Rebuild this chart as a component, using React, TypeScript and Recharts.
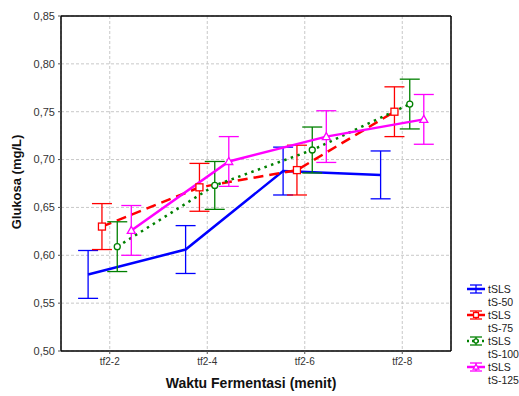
import { ComposedChart, Line, XAxis, YAxis, CartesianGrid, ErrorBar, ReferenceLine } from "recharts";

// data
const categories = ["tf2-2", "tf2-4", "tf2-6", "tf2-8"];
const yTicks = [0.5, 0.55, 0.6, 0.65, 0.7, 0.75, 0.8, 0.85];

const ts50 = [0.580, 0.606, 0.688, 0.684];
const ts50Err = [0.025, 0.025, 0.025, 0.025];
const ts75 = [0.630, 0.671, 0.689, 0.750];
const ts75Err = [0.024, 0.025, 0.026, 0.026];
const ts100 = [0.609, 0.673, 0.710, 0.758];
const ts100Err = [0.026, 0.025, 0.024, 0.026];
const ts125 = [0.626, 0.698, 0.724, 0.742];
const ts125Err = [0.026, 0.026, 0.027, 0.026];

const chartData = categories.map((c, i) => ({
  x: i + 1,
  label: c,
  ts50: ts50[i],
  ts50Err: ts50Err[i],
  ts75: ts75[i],
  ts75Err: ts75Err[i],
  ts100: ts100[i],
  ts100Err: ts100Err[i],
  ts125: ts125[i],
  ts125Err: ts125Err[i],
}));

type Marker = "none" | "square" | "circle" | "triangle";

const series: Array<{
  key: string;
  name: [string, string];
  color: string;
  dash?: string;
  width: number;
  marker: Marker;
  shift: number;
}> = [
  { key: "ts50", name: ["tSLS", "tS-50"], color: "#0000ff", width: 2.5, marker: "none", shift: -0.222 },
  { key: "ts75", name: ["tSLS", "tS-75"], color: "#ff0000", dash: "10 6", width: 2.5, marker: "square", shift: -0.08 },
  { key: "ts100", name: ["tSLS", "tS-100"], color: "#008000", dash: "2.5 4.5", width: 2.5, marker: "circle", shift: 0.077 },
  { key: "ts125", name: ["tSLS", "tS-125"], color: "#ff00ff", width: 2.5, marker: "triangle", shift: 0.221 },
];

const font = "Arial, 'Liberation Sans', sans-serif";
const fmt = (v: number) => v.toFixed(2).replace(".", ",");

function markerShape(marker: Marker, color: string, cx: number, cy: number, key?: string, size = 1) {
  if (marker === "square")
    return <rect key={key} x={cx - 3.5 * size} y={cy - 3.5 * size} width={7 * size} height={7 * size} fill="#fff" stroke={color} strokeWidth={1.3} />;
  if (marker === "circle")
    return <circle key={key} cx={cx} cy={cy} r={3 * size} fill="#fff" stroke={color} strokeWidth={1.3} />;
  if (marker === "triangle")
    return (
      <polygon
        key={key}
        points={`${cx},${cy - 4 * size} ${cx - 4 * size},${cy + 3 * size} ${cx + 4 * size},${cy + 3 * size}`}
        fill="#fff"
        stroke={color}
        strokeWidth={1.3}
      />
    );
  return <g key={key} />;
}

function LegendBox() {
  return (
    <div style={{ position: "absolute", left: 466, top: 281, width: 53, fontFamily: font, fontSize: 10.5, color: "#222", whiteSpace: "nowrap" }}>
      {series.map((s) => (
        <div key={s.key} style={{ position: "relative", height: 26 }}>
          <svg width={20} height={14} style={{ position: "absolute", left: 0, top: 1 }}>
            <line x1={1} x2={19} y1={7} y2={7} stroke={s.color} strokeWidth={2.5} strokeDasharray={s.marker === "circle" ? "2 3" : undefined} />
            <line x1={10} x2={10} y1={3} y2={11} stroke={s.color} strokeWidth={1.3} />
            <line x1={4} x2={16} y1={3} y2={3} stroke={s.color} strokeWidth={1.3} />
            <line x1={4} x2={16} y1={11} y2={11} stroke={s.color} strokeWidth={1.3} />
            {markerShape(s.marker, s.color, 10, 7, undefined, 0.7)}
          </svg>
          <div style={{ position: "absolute", left: 22, top: 2, lineHeight: "13px" }}>
            {s.name[0]}
            <br />
            {s.name[1]}
          </div>
        </div>
      ))}
    </div>
  );
}

export default function App() {
  return (
    <div style={{ position: "absolute", left: 0, top: 0, width: 519, height: 396, background: "#fff", fontFamily: font, overflow: "hidden" }}>
      <ComposedChart width={519} height={396} data={chartData} margin={{ top: 16, right: 62, bottom: 20, left: 0 }}>
        <CartesianGrid xAxisId="main" yAxisId="left" stroke="#c8c8c8" strokeDasharray="3 2" />
        <XAxis
          xAxisId="main"
          type="number"
          dataKey="x"
          domain={[0.5, 4.5]}
          ticks={[1, 2, 3, 4]}
          allowDataOverflow
          tickFormatter={(v: number) => categories[v - 1]}
          tick={{ fontSize: 10, fill: "#333", fontFamily: font }}
          tickSize={3}
          tickMargin={4}
          height={25}
          axisLine={{ stroke: "#000", strokeWidth: 1.5 }}
          tickLine={{ stroke: "#555" }}
        />
        {series.map((s) => (
          <XAxis
            key={s.key}
            xAxisId={s.key}
            type="number"
            dataKey="x"
            domain={[0.5 - s.shift, 4.5 - s.shift]}
            allowDataOverflow
            hide
          />
        ))}
        <YAxis
          yAxisId="left"
          domain={[0.5, 0.85]}
          ticks={yTicks}
          allowDataOverflow
          tickFormatter={fmt}
          tick={{ fontSize: 11, fill: "#333", fontFamily: font }}
          tickSize={3}
          tickMargin={3}
          width={61}
          axisLine={{ stroke: "#000", strokeWidth: 1.5 }}
          tickLine={{ stroke: "#555" }}
        />
        <YAxis
          yAxisId="right"
          orientation="right"
          domain={[0.5, 0.85]}
          ticks={yTicks}
          allowDataOverflow
          tick={false}
          tickSize={3}
          width={6}
          axisLine={{ stroke: "#000", strokeWidth: 1.5 }}
          tickLine={{ stroke: "#555" }}
        />
        <ReferenceLine xAxisId="main" yAxisId="left" y={0.85} stroke="#000" strokeWidth={1.5} />
        {series.map((s) => (
          <Line
            key={s.key}
            xAxisId={s.key}
            yAxisId="left"
            type="linear"
            dataKey={s.key}
            stroke={s.color}
            strokeWidth={s.width}
            strokeDasharray={s.dash}
            isAnimationActive={false}
            activeDot={false}
            dot={(p: any) => markerShape(s.marker, s.color, p.cx, p.cy, `${s.key}-${p.index}`)}
          >
            <ErrorBar
              dataKey={`${s.key}Err`}
              direction="y"
              width={10}
              stroke={s.color}
              strokeWidth={1.3}
              isAnimationActive={false}
            />
          </Line>
        ))}
      </ComposedChart>
      <div
        style={{
          position: "absolute",
          left: 16,
          top: 182,
          transform: "translate(-50%, -50%) rotate(-90deg)",
          fontSize: 13,
          fontWeight: "bold",
          whiteSpace: "nowrap",
          color: "#111",
        }}
      >
        Glukosa (mg/L)
      </div>
      <div
        style={{
          position: "absolute",
          left: 251,
          top: 383,
          transform: "translate(-50%, -50%)",
          fontSize: 14,
          fontWeight: "bold",
          whiteSpace: "nowrap",
          color: "#111",
        }}
      >
        Waktu Fermentasi (menit)
      </div>
      <LegendBox />
    </div>
  );
}
